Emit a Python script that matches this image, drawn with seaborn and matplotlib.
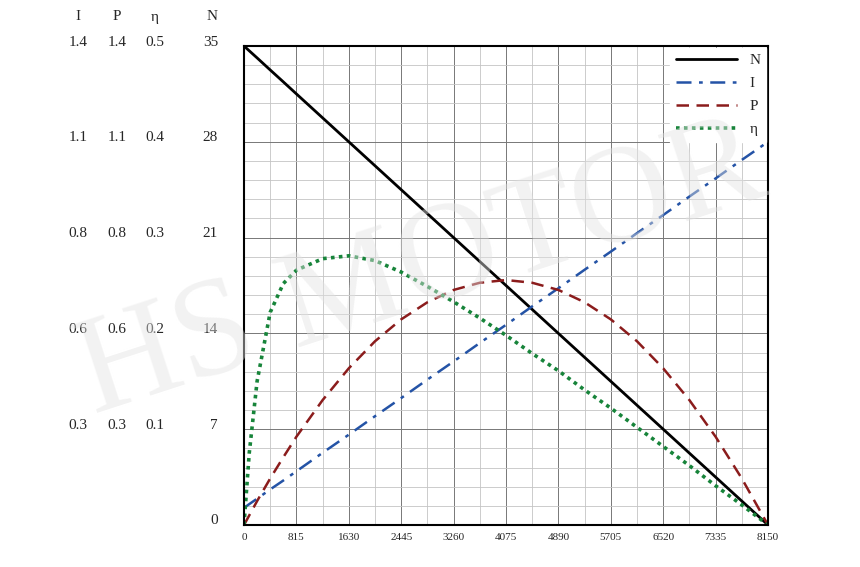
import numpy as np
import pandas as pd
import matplotlib.pyplot as plt
import seaborn as sns
from matplotlib.ticker import MultipleLocator

# ----- data -----
t_frac = [0, 0.01, 0.025, 0.05, 0.075, 0.1, 0.15, 0.2, 0.25, 0.3, 0.35, 0.4, 0.45, 0.5,
          0.55, 0.6, 0.65, 0.7, 0.75, 0.8, 0.85, 0.9, 0.95, 1.0]
speed_max = 8150
n_vals = [35, 34.65, 34.13, 33.25, 32.38, 31.5, 29.75, 28, 26.25, 24.5, 22.75, 21, 19.25, 17.5,
          15.75, 14, 12.25, 10.5, 8.75, 7, 5.25, 3.5, 1.75, 0]
i_vals = [0.05, 0.061, 0.077, 0.104, 0.130, 0.157, 0.211, 0.264, 0.318, 0.371, 0.425, 0.478,
          0.532, 0.585, 0.639, 0.692, 0.746, 0.799, 0.853, 0.906, 0.960, 1.013, 1.067, 1.12]
p_vals = [0, 0.028, 0.070, 0.136, 0.198, 0.258, 0.365, 0.458, 0.537, 0.601, 0.651, 0.687, 0.708,
          0.716, 0.708, 0.687, 0.651, 0.601, 0.537, 0.458, 0.365, 0.258, 0.136, 0]
eta_vals = [0, 0.075, 0.150, 0.222, 0.252, 0.266, 0.278, 0.281, 0.276, 0.264, 0.249, 0.233, 0.216,
            0.198, 0.179, 0.161, 0.141, 0.122, 0.102, 0.082, 0.062, 0.041, 0.021, 0]

x_ticks = [0, 815, 1630, 2445, 3260, 4075, 4890, 5705, 6520, 7335, 8150]
col_heads = ["I", "P", "η", "N"]
i_labels = ["1.4", "1.1", "0.8", "0.6", "0.3", ""]
p_labels = ["1.4", "1.1", "0.8", "0.6", "0.3", ""]
eta_labels = ["0.5", "0.4", "0.3", "0.2", "0.1", ""]
n_labels = ["35", "28", "21", "14", "7", "0"]
n_levels = [35, 28, 21, 14, 7, 0]

speed = [f * speed_max for f in t_frac]
# scale every series onto the N axis (0..35)
df = pd.DataFrame({
    "speed": speed,
    "N": n_vals,
    "I": [v * 25 for v in i_vals],
    "P": [v * 25 for v in p_vals],
    "η": [v * 70 for v in eta_vals],
})

sns.set_style("white")
plt.rcParams["font.family"] = ["Liberation Serif", "DejaVu Serif"]

fig = plt.figure(figsize=(8.6, 5.67), dpi=100)
ax = fig.add_axes([244 / 860, 42 / 567, 524 / 860, 479 / 567])

styles = {
    "N": dict(color="black", linestyle="-", linewidth=2),
    "I": dict(color="#2453a6", linestyle=(0, (6, 3, 1.5, 3)), linewidth=1.8),
    "P": dict(color="#8b1c1c", linestyle=(0, (5, 3)), linewidth=1.8),
    "η": dict(color="#17843a", linestyle=(0, (1, 1.2)), linewidth=2.6),
}
for name in ["N", "I", "P", "η"]:
    sns.lineplot(data=df, x="speed", y=name, ax=ax, label=name, **styles[name])

ax.set_xlim(0, speed_max)
ax.set_ylim(0, 35)
ax.set_xticks(x_ticks)
ax.set_xticklabels([str(v) for v in x_ticks], fontsize=8)
ax.xaxis.set_minor_locator(MultipleLocator(407.5))
ax.set_yticks([0, 7, 14, 21, 28, 35])
ax.yaxis.set_minor_locator(MultipleLocator(1.4))
ax.tick_params(axis="y", which="both", left=False, labelleft=False)
ax.tick_params(axis="x", which="both", length=0, pad=6)
ax.grid(True, which="major", color="#777777", linewidth=0.7)
ax.grid(True, which="minor", color="#c4c4c4", linewidth=0.6)
ax.set_xlabel(None)
ax.set_ylabel(None)
for sp in ax.spines.values():
    sp.set_color("black")
    sp.set_linewidth(1.5)

leg = ax.legend(loc="upper right", frameon=True, fancybox=False, framealpha=1,
                edgecolor="white", fontsize=11, handlelength=4, borderaxespad=0.1,
                labelspacing=0.6)

# left side value columns
col_x = [78, 117, 155, 218]
fig_h = 567
for cx, head in zip(col_x, col_heads):
    fig.text(cx / 860, 1 - 17 / fig_h, head, ha="center" if head != "N" else "right",
             va="center", fontsize=11)
for lvl, a, b, c, d in zip(n_levels, i_labels, p_labels, eta_labels, n_labels):
    ypx = 525 - lvl / 35 * 479 - 4
    yf = 1 - ypx / fig_h
    for cx, s in zip(col_x[:3], [a, b, c]):
        fig.text(cx / 860, yf, s, ha="center", va="center", fontsize=11)
    fig.text(col_x[3] / 860, yf, d, ha="right", va="center", fontsize=11)

# watermark
fig.text(0.49, 0.52, "HS MOTOR", fontsize=100, color="#e2e2e2", alpha=0.45,
         rotation=18, ha="center", va="center", zorder=5)

fig.savefig("out.png", dpi=100)
